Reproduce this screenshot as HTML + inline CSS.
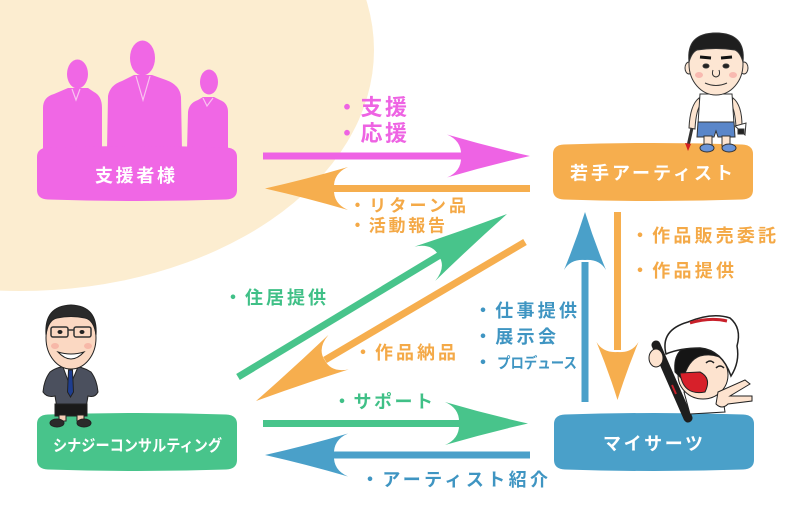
<!DOCTYPE html>
<html><head><meta charset="utf-8"><style>
html,body{margin:0;padding:0;background:#fff;}
svg{display:block;}
text{font-family:"Liberation Sans","Noto Sans CJK JP",sans-serif;font-weight:700;}
</style></head><body>
<svg width="789" height="526" viewBox="0 0 789 526" xmlns="http://www.w3.org/2000/svg">
<rect width="789" height="526" fill="#fff"/>
<ellipse cx="20" cy="50" rx="354" ry="241" fill="#fcedd0"/>

<!-- silhouettes -->
<g fill="#f067e5">
  <ellipse cx="77.5" cy="74" rx="10.5" ry="14.5"/>
  <path d="M43,150 L43,108 Q43,97 54,94 L68,88 L88,88 L94,92 Q102,96 102,108 L102,150 Z"/>
  <ellipse cx="142.5" cy="58" rx="12.5" ry="17.5"/>
  <path d="M107,150 L108,96 Q110,85 122,81 L134,75 L152,75 L166,80 Q180,85 181,97 L182,150 Z"/>
  <ellipse cx="209" cy="82" rx="9" ry="12.5"/>
  <path d="M187,150 L188,112 Q189,103 198,100 L203,97 L214,97 L220,100 Q228,103 228,112 L228,150 Z"/>
</g>
<g fill="none" stroke="#f9c3ef" stroke-width="1.2">
  <path d="M72,89 L76,100 L80,89"/>
  <path d="M136,76 L143,100 L150,76"/>
  <path d="M203,98 L207,106 L213,98"/>
</g>

<!-- boxes -->
<path fill="#f067e5" d="M37,157Q37,148 48,147.5Q137,144.5 226,147.5Q237,148 237,157L237,190Q237,199 226,199.5Q137,202.5 48,199.5Q37,199 37,190Z"/>
<path fill="#f6ae4e" d="M553,154Q553,145 564,144.5Q653,141.5 742,144.5Q753,145 753,154L753,190Q753,199 742,199.5Q653,202.5 564,199.5Q553,199 553,190Z"/>
<path fill="#48c48b" d="M37,424Q37,415 48,414.5Q137,411.5 226,414.5Q237,415 237,424L237,460Q237,469 226,469.5Q137,472.5 48,469.5Q37,469 37,460Z"/>
<path fill="#4aa0c9" d="M554,424Q554,415 565,414.5Q654,411.5 743,414.5Q754,415 754,424L754,460Q754,469 743,469.5Q654,472.5 565,469.5Q554,469 554,460Z"/>

<!-- box labels -->
<text x="95" y="182" font-size="18" fill="#fff" textLength="80" lengthAdjust="spacing">支援者様</text>
<text x="570" y="179.5" font-size="18" fill="#fff" textLength="163" lengthAdjust="spacing">若手アーティスト</text>
<text x="53" y="451" font-size="16" fill="#fff" textLength="169" lengthAdjust="spacingAndGlyphs">シナジーコンサルティング</text>
<text x="603" y="450" font-size="18" fill="#fff" textLength="100" lengthAdjust="spacing">マイサーツ</text>

<!-- young artist -->
<g stroke="#333" stroke-width="1">
  <path d="M699,98 Q690,105 689,128 L695,129 Q696,110 701,104Z" fill="#fde4cf"/>
  <path d="M733,98 Q742,105 742,126 L736,127 Q735,110 731,104Z" fill="#fde4cf"/>
  <path d="M700,94 L732,94 L734,124 L698,124Z" fill="#fff"/>
  <path d="M698,122 L734,122 L735,137 L718,137 L716,131 L714,137 L697,137Z" fill="#5a86c9"/>
  <rect x="704" y="136" width="8" height="10" fill="#fde4cf"/>
  <rect x="722" y="136" width="8" height="10" fill="#fde4cf"/>
  <ellipse cx="707" cy="148" rx="7" ry="4" fill="#6b94d6"/>
  <ellipse cx="729" cy="148" rx="7" ry="4" fill="#6b94d6"/>
  <ellipse cx="689" cy="68" rx="4" ry="6" fill="#fde6d3"/>
  <ellipse cx="744" cy="68" rx="4" ry="6" fill="#fde6d3"/>
  <ellipse cx="716" cy="64" rx="27" ry="31" fill="#fde6d3"/>
  <path d="M689,62 Q686,33 716,33 Q746,33 743,62 Q740,52 735,50 Q716,47 697,50 Q692,52 689,62Z" fill="#1e1e1e"/>
  <path d="M700,57 L711,58 M721,58 L732,57" stroke="#111" stroke-width="3" fill="none"/>
  <ellipse cx="706" cy="66" rx="3" ry="2" fill="#222"/>
  <ellipse cx="726" cy="66" rx="3" ry="2" fill="#222"/>
  <path d="M713,70 Q711,76 716,77 Q721,76 719,70" fill="none"/>
  <path d="M705,83 Q716,88 727,83" fill="none"/>
  <ellipse cx="699" cy="75" rx="4" ry="3" fill="#f8b9b0" stroke="none"/>
  <ellipse cx="733" cy="75" rx="4" ry="3" fill="#f8b9b0" stroke="none"/>
  <line x1="692" y1="128" x2="688" y2="146" stroke="#333" stroke-width="3"/>
  <path d="M685,143 L691,144 L688,151 Z" fill="#d21e1e" stroke="none"/>
  <path d="M735,126 L746,123 L745,135 Z" fill="#fff"/>
  <rect x="738" y="129" width="6" height="5" fill="#222"/>
</g>

<!-- consultant -->
<g stroke="#222" stroke-width="1">
  <path d="M50,372 Q44,380 43,392 Q47,398 55,396 L57,408 L86,408 L88,396 Q95,398 98,392 Q97,380 91,372 Q82,366 70,366 Q58,366 50,372Z" fill="#4b505e"/>
  <path d="M63,367 L70,386 L78,367Z" fill="#fff"/>
  <path d="M68.5,370 L72.5,370 L73.5,392 L70.5,397 L67.5,392Z" fill="#1e3d8f"/>
  <rect x="55" y="404" width="32" height="12" fill="#1a1a1a"/>
  <rect x="59" y="415" width="7" height="6" fill="#f5cdb5"/>
  <rect x="77" y="415" width="7" height="6" fill="#f5cdb5"/>
  <ellipse cx="57" cy="423" rx="7" ry="4" fill="#2b2b2b"/>
  <ellipse cx="84" cy="423" rx="7" ry="4" fill="#2b2b2b"/>
  <ellipse cx="71" cy="338" rx="25" ry="31" fill="#fbd8c2"/>
  <path d="M46,335 Q44,306 71,305 Q98,306 96,335 Q94,320 85,318 Q71,315 57,318 Q48,320 46,335Z" fill="#2a2a2a"/>
  <rect x="51" y="327" width="17" height="10" rx="2" fill="none" stroke="#333" stroke-width="1.5"/>
  <rect x="74" y="327" width="17" height="10" rx="2" fill="none" stroke="#333" stroke-width="1.5"/>
  <line x1="68" y1="330" x2="74" y2="330" stroke="#333" stroke-width="1.5"/>
  <ellipse cx="60" cy="332" rx="2" ry="1.5" fill="#222"/>
  <ellipse cx="82" cy="332" rx="2" ry="1.5" fill="#222"/>
  <path d="M58,352 Q71,366 84,352 Q71,356 58,352Z" fill="#fff"/>
  <ellipse cx="55" cy="346" rx="4" ry="3" fill="#f7b8a8" stroke="none"/>
  <ellipse cx="88" cy="346" rx="4" ry="3" fill="#f7b8a8" stroke="none"/>
</g>

<!-- mysaatsu character -->
<g stroke="#222" stroke-width="1">
  <line x1="656" y1="345" x2="688" y2="418" stroke="#1e1e1e" stroke-width="9" stroke-linecap="round"/>
  <line x1="672" y1="385" x2="676" y2="394" stroke="#c8202a" stroke-width="2"/>
  <path d="M684,392 L722,392 L725,412 L690,414Z" fill="#fff"/>
  <ellipse cx="703" cy="375" rx="25" ry="24" fill="#fde3cf"/>
  <path d="M675,372 Q672,345 700,343 Q726,345 728,362 Q715,352 700,356 Q688,360 683,380Z" fill="#151515"/>
  <path d="M666,354 Q660,330 688,322 Q712,312 730,318 Q742,328 737,346 Q740,362 731,376 Q722,350 700,348 Q680,348 666,354Z" fill="#fff" stroke-width="1.5"/>
  <path d="M690,323 Q710,317 727,321" stroke="#c8202a" stroke-width="3" fill="none"/>
  <path d="M680,373 Q683,396 705,392 Q712,378 700,372 Z" fill="#d7202a"/>
  <path d="M706,363 Q710,359 714,363 M716,368 Q720,364 724,368" fill="none" stroke-width="1.5"/>
  <ellipse cx="656" cy="358" rx="7" ry="9" fill="#fde3cf"/>
  <path d="M718,392 L745,380 L750,384 L730,396 L752,396 L752,401 L728,404 Q722,410 716,404Z" fill="#fde3cf"/>
</g>

<!-- arrows -->
<g>
  <line x1="263" y1="156" x2="470" y2="156" stroke="#ee63e4" stroke-width="7"/>
  <path fill="#ee63e4" transform="translate(530,156)" d="M0,0Q-42,-9.5-83,-21.5Q-68,-15-69,0Q-68,15-83,21.5Q-42,9.5,0,0Z"/>

  <line x1="330" y1="188.5" x2="530" y2="188.5" stroke="#f6ae4e" stroke-width="7"/>
  <path fill="#f6ae4e" transform="translate(265,188.5) rotate(180)" d="M0,0Q-42,-9.5-83,-21.5Q-68,-15-69,0Q-68,15-83,21.5Q-42,9.5,0,0Z"/>

  <line x1="263" y1="423.5" x2="470" y2="423.5" stroke="#48c48b" stroke-width="7"/>
  <path fill="#48c48b" transform="translate(528,423.5)" d="M0,0Q-42,-9.5-83,-21.5Q-68,-15-69,0Q-68,15-83,21.5Q-42,9.5,0,0Z"/>

  <line x1="330" y1="455" x2="530" y2="455" stroke="#4aa0c9" stroke-width="7"/>
  <path fill="#4aa0c9" transform="translate(265,455) rotate(180)" d="M0,0Q-42,-9.5-83,-21.5Q-68,-15-69,0Q-68,15-83,21.5Q-42,9.5,0,0Z"/>

  <line x1="238" y1="377" x2="440" y2="255" stroke="#48c48b" stroke-width="7"/>
  <path fill="#48c48b" transform="translate(507,214) rotate(-31.2)" d="M0,0Q-48,-9-96,-20Q-79,-14-80,0Q-79,14-96,20Q-48,9,0,0Z"/>

  <line x1="525" y1="242" x2="325" y2="360" stroke="#f6ae4e" stroke-width="7"/>
  <path fill="#f6ae4e" transform="translate(256,401) rotate(149.4)" d="M0,0Q-48,-9-96,-20Q-79,-14-80,0Q-79,14-96,20Q-48,9,0,0Z"/>

  <line x1="585" y1="402" x2="585" y2="262" stroke="#4aa0c9" stroke-width="7"/>
  <path fill="#4aa0c9" transform="translate(585,212) rotate(-90)" d="M0,0Q-29,-9-58,-21Q-47,-14.5-48,0Q-47,14.5-58,21Q-29,9,0,0Z"/>

  <line x1="617.5" y1="212" x2="617.5" y2="350" stroke="#f6ae4e" stroke-width="7"/>
  <path fill="#f6ae4e" transform="translate(617.5,400) rotate(90)" d="M0,0Q-29,-9-58,-21Q-47,-14.5-48,0Q-47,14.5-58,21Q-29,9,0,0Z"/>
</g>

<!-- labels -->
<g fill="#ee63e3">
  <text x="336" y="115" font-size="22" textLength="71" lengthAdjust="spacing">・支援</text>
  <text x="336" y="141" font-size="22" textLength="71" lengthAdjust="spacing">・応援</text>
</g>
<g fill="#f4a947">
  <text x="349" y="211.5" font-size="17" textLength="117" lengthAdjust="spacing">・リターン品</text>
  <text x="349" y="231.5" font-size="17" textLength="96" lengthAdjust="spacing">・活動報告</text>
  <text x="354" y="359" font-size="18" textLength="102" lengthAdjust="spacing">・作品納品</text>
  <text x="631" y="242" font-size="18" textLength="145" lengthAdjust="spacing">・作品販売委託</text>
  <text x="631" y="277" font-size="18" textLength="103" lengthAdjust="spacing">・作品提供</text>
</g>
<g fill="#40c087">
  <text x="224" y="304" font-size="18" textLength="102" lengthAdjust="spacing">・住居提供</text>
  <text x="333" y="408" font-size="18" textLength="100" lengthAdjust="spacing">・サポート</text>
</g>
<g fill="#3f95c2">
  <text x="361" y="486" font-size="18" textLength="187" lengthAdjust="spacing">・アーティスト紹介</text>
  <text x="474" y="317" font-size="18" textLength="103" lengthAdjust="spacing">・仕事提供</text>
  <text x="474" y="343" font-size="18" textLength="82" lengthAdjust="spacing">・展示会</text>
  <text x="474" y="369" font-size="18">・</text>
  <text x="497" y="368" font-size="15" textLength="80" lengthAdjust="spacingAndGlyphs">プロデュース</text>
</g>
</svg>
</body></html>
